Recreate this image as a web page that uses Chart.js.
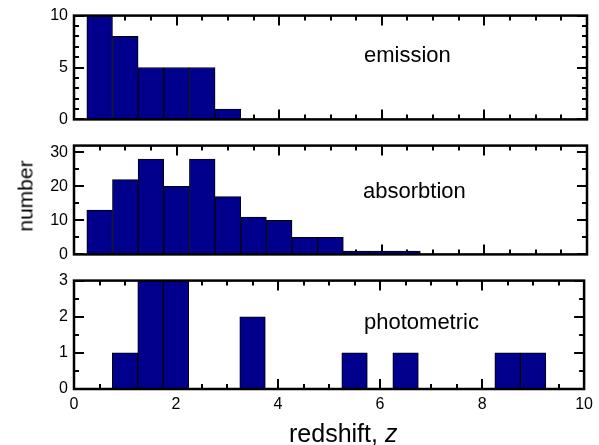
<!DOCTYPE html>
<html>
<head>
<meta charset="utf-8">
<script src="https://cdn.jsdelivr.net/npm/chart.js@4"></script>
<style>
  body { margin: 0; background: #fff; }
  #wrap { position: relative; width: 599px; height: 445px; font-family: "Liberation Sans", Arial, sans-serif; color: #000; }
  canvas { position: absolute; left: 0; }
  .lbl { position: absolute; line-height: 1; white-space: nowrap; }
</style>
</head>
<body>
<div id="wrap">
  <canvas id="emission" width="599" height="135" style="top:0px"></canvas>
  <canvas id="absorption" width="599" height="140" style="top:130px"></canvas>
  <canvas id="photometric" width="599" height="180" style="top:265px"></canvas>
  <div class="lbl" style="left:364px; top:44px; font-size:22px">emission</div>
  <div class="lbl" style="left:363px; top:180px; font-size:22px">absorbtion</div>
  <div class="lbl" style="left:364px; top:311px; font-size:22px">photometric</div>
  <div class="lbl" style="left:289px; top:421px; font-size:25px">redshift, <i>z</i></div>
  <div class="lbl" style="left:24.7px; top:196px; font-size:21px; transform: translate(-50%, -50%) rotate(-90deg)">number</div>
</div>
<script>
// bin centres (redshift) and counts, bins are 0.5 wide
const emissionZ = [0.5, 1.0, 1.5, 2.0, 2.5, 3.0];
const emissionN = [10, 8, 5, 5, 5, 1];

const absorptionZ = [0.5, 1.0, 1.5, 2.0, 2.5, 3.0, 3.5, 4.0, 4.5, 5.0, 5.5, 6.0, 6.5];
const absorptionN = [13, 22, 28, 20, 28, 17, 11, 10, 5, 5, 1, 1, 1];

const photometricZ = [1.0, 1.5, 2.0, 3.5, 5.5, 6.5, 8.5, 9.0];
const photometricN = [1, 3, 3, 2, 1, 1, 1, 1];

const xTicks = [0, 2, 4, 6, 8, 10];

const barColor = '#00008c';

function isMajor(v, step) {
  return Math.abs(v / step - Math.round(v / step)) < 1e-6;
}

// inward ticks on all four sides + black frame
const frameTicks = {
  id: 'frameTicks',
  beforeDatasetsDraw(chart, args, o) {
    const ctx = chart.ctx, a = chart.chartArea;
    const x = chart.scales.x, y = chart.scales.y;
    ctx.save();
    ctx.strokeStyle = '#000';
    ctx.lineWidth = 2;
    ctx.beginPath();
    const nx = Math.round((x.max - x.min) / o.xMinor);
    for (let i = 0; i <= nx; i++) {
      const v = x.min + i * o.xMinor;
      const px = Math.round(x.getPixelForValue(v));
      const len = isMajor(v, o.xMajor) ? 10 : 5;
      ctx.moveTo(px, a.bottom); ctx.lineTo(px, a.bottom - len);
      ctx.moveTo(px, a.top); ctx.lineTo(px, a.top + len);
    }
    const ny = Math.floor((y.max - y.min) / o.yMinor + 1e-6);
    for (let i = 0; i <= ny; i++) {
      const v = y.min + i * o.yMinor;
      const py = Math.round(y.getPixelForValue(v));
      const len = isMajor(v, o.yMajor) ? 10 : 5;
      ctx.moveTo(a.left, py); ctx.lineTo(a.left + len, py);
      ctx.moveTo(a.right, py); ctx.lineTo(a.right - len, py);
    }
    ctx.stroke();
    ctx.restore();
  },
  afterDatasetsDraw(chart) {
    const ctx = chart.ctx, a = chart.chartArea;
    ctx.save();
    ctx.strokeStyle = '#000';
    ctx.lineWidth = 2.5;
    ctx.strokeRect(a.left, a.top, a.right - a.left, a.bottom - a.top);
    ctx.restore();
  }
};

function makePanel(id, zs, ns, opt) {
  const showX = !!opt.showX;
  return new Chart(document.getElementById(id), {
    type: 'bar',
    data: {
      datasets: [{
        data: zs.map((z, i) => ({ x: z, y: ns[i] })),
        backgroundColor: barColor,
        borderColor: '#000',
        borderWidth: 1,
        barPercentage: 1,
        categoryPercentage: 1
      }]
    },
    options: {
      responsive: false,
      animation: false,
      devicePixelRatio: 1,
      layout: { padding: opt.padding },
      plugins: {
        legend: { display: false },
        tooltip: { enabled: false },
        frameTicks: { xMajor: 2, xMinor: 0.5, yMajor: opt.yMajor, yMinor: opt.yMinor }
      },
      scales: {
        x: {
          type: 'linear',
          min: 0, max: 10,
          offset: false,
          display: showX,
          grid: { display: false, drawTicks: false },
          border: { display: false },
          afterBuildTicks: s => { s.ticks = xTicks.map(v => ({ value: v })); },
          afterFit: s => { if (showX) s.height = 56; },
          ticks: { padding: 6, color: '#000', font: { family: 'Liberation Sans', size: 16 } }
        },
        y: {
          min: 0, max: opt.yMax,
          grid: { display: false, drawTicks: false },
          border: { display: false },
          afterFit: s => { s.width = 74; },
          ticks: {
            stepSize: opt.yMajor,
            includeBounds: false,
            padding: 6,
            color: '#000',
            font: { family: 'Liberation Sans', size: 16 }
          }
        }
      }
    },
    plugins: [frameTicks]
  });
}

makePanel('emission', emissionZ, emissionN,
  { yMax: 10, yMajor: 5, yMinor: 1, padding: { top: 13, bottom: 13, left: 0, right: 12 } });
makePanel('absorption', absorptionZ, absorptionN,
  { yMax: 32, yMajor: 10, yMinor: 5, padding: { top: 12, bottom: 14, left: 0, right: 12 } });
makePanel('photometric', photometricZ, photometricN,
  { yMax: 3, yMajor: 1, yMinor: 0.5, showX: true, padding: { top: 13, bottom: 0, left: 0, right: 12 } });
</script>
</body>
</html>
